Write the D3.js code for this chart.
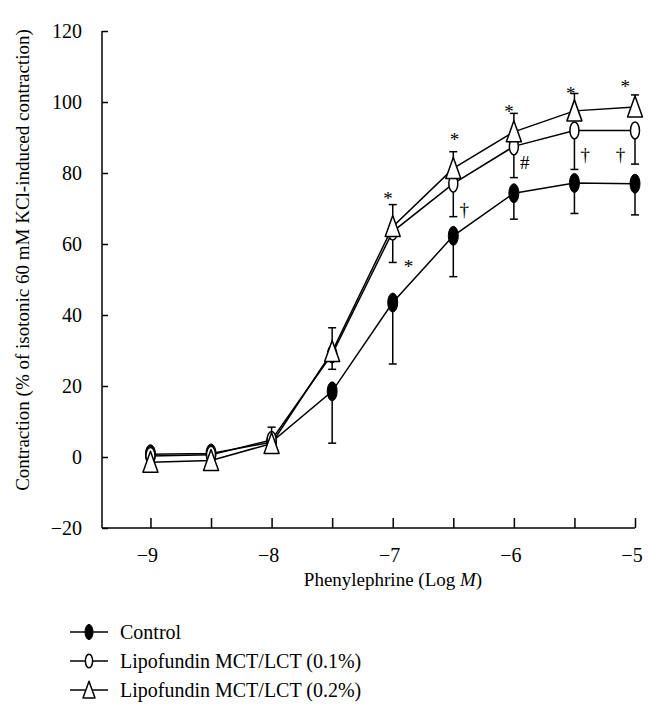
<!DOCTYPE html>
<html><head><meta charset="utf-8">
<script src="https://cdn.jsdelivr.net/npm/d3@7"></script>
<style>
html,body{margin:0;padding:0;background:#fff;}
svg text{font-family:"Times New Roman","Liberation Serif","DejaVu Serif","Noto Serif",serif !important;}
</style></head>
<body><svg id="c" width="660" height="714"></svg>
<script>
// ---- data ----
const logDose = [-9, -8.5, -8, -7.5, -7, -6.5, -6, -5.5, -5];
const controlMean = [0.8, 1.0, 4.2, 18.5, 43.5, 62.3, 74.3, 77.2, 77.0];
const controlSD   = [0.5, 0.5, 1.0, 14.6, 17.3, 11.5, 7.3, 8.6, 8.8];
const lipo01Mean  = [0.3, 0.6, 4.8, 29.0, 63.5, 77.0, 87.5, 92.0, 92.0];
const lipo01SD    = [0.5, 0.5, 1.0, 4.3, 8.7, 9.3, 8.8, 11.0, 9.5];
const lipo02Mean  = [-1.5, -1.0, 3.8, 29.7, 64.9, 81.3, 91.6, 97.5, 98.6];
const lipo02SD    = [0.5, 0.5, 4.6, 6.7, 6.2, 4.7, 5.2, 4.9, 3.4];
const xTicks = [-9, -8.5, -8, -7.5, -7, -6.5, -6, -5.5, -5];
const xTickLabels = ["−9", "", "−8", "", "−7", "", "−6", "", "−5"];
const yTicks = [-20, 0, 20, 40, 60, 80, 100, 120];
const yTickLabels = ["−20", "0", "20", "40", "60", "80", "100", "120"];
const legendLabels = ["Control", "Lipofundin MCT/LCT (0.1%)", "Lipofundin MCT/LCT (0.2%)"];
const markSymbols = ["*", "*", "*", "*", "*", "*", "†", "†", "†", "#"];
const markX = [-7.04, -6.87, -6.49, -6.04, -5.53, -5.08, -6.41, -5.41, -5.12, -5.91];
const markY = [74.4, 55.2, 91.0, 98.9, 103.9, 105.9, 69.6, 85.1, 85.1, 82.8];

const svg = d3.select("#c");
const x = d3.scaleLinear().domain([-9.4, -5]).range([102, 635]);
const y = d3.scaleLinear().domain([-20, 120]).range([528, 31]);

// axes
const yAxis = d3.axisRight(y).tickValues(yTicks).tickSize(6).tickFormat("");
const gy = svg.append("g").attr("transform", `translate(${x.range()[0]},0)`).call(yAxis);
gy.select(".domain").attr("d", `M0,${y(120)}V${y(-20)}`);
gy.selectAll("line,path").attr("stroke", "#000").attr("stroke-width", 1.5);
svg.append("g").selectAll("text").data(yTicks).join("text")
  .attr("fill", "#000")
  .attr("x", 82).attr("y", d => y(d)).attr("dy", "0.35em")
  .attr("text-anchor", "end").attr("font-size", 20)
  .text((d, i) => yTickLabels[i]);

const xAxis = d3.axisTop(x).tickValues(xTicks).tickSize(10).tickFormat("");
const gx = svg.append("g").attr("transform", `translate(0,${y(-20)})`).call(xAxis);
gx.select(".domain").attr("d", `M${x.range()[0]},0H${x(-5)}`);
gx.selectAll("line,path").attr("stroke", "#000").attr("stroke-width", 1.5);
svg.append("g").selectAll("text").data(xTicks).join("text")
  .attr("fill", "#000")
  .attr("x", d => x(d) - 3).attr("y", 562)
  .attr("text-anchor", "middle").attr("font-size", 20)
  .text((d, i) => xTickLabels[i]);

// titles
const xt = svg.append("text").attr("fill", "#000")
  .attr("x", 393).attr("y", 586).attr("text-anchor", "middle").attr("font-size", 19);
xt.append("tspan").text("Phenylephrine (Log ");
xt.append("tspan").attr("font-style", "italic").text("M");
xt.append("tspan").text(")");
svg.append("text").attr("fill", "#000")
  .attr("transform", "translate(29,260) rotate(-90)")
  .attr("text-anchor", "middle").attr("font-size", 19)
  .text("Contraction (% of isotonic 60 mM KCl-induced contraction)");

// series
const series = [
  {mean: controlMean, sd: controlSD, dir: 1, shape: "fill"},
  {mean: lipo01Mean, sd: lipo01SD, dir: 1, shape: "open"},
  {mean: lipo02Mean, sd: lipo02SD, dir: -1, shape: "tri"}
];
const line = d3.line().x(d => x(d[0])).y(d => y(d[1]));
const plot = svg.append("g");

function drawMarker(g, cx, cy, shape, scale) {
  const s = scale || 1;
  if (shape === "fill") {
    g.append("ellipse").attr("cx", cx).attr("cy", cy).attr("rx", 5 * s).attr("ry", 9.5 * s)
      .attr("fill", "#000").attr("stroke", "#000").attr("stroke-width", 1);
  } else if (shape === "open") {
    g.append("ellipse").attr("cx", cx).attr("cy", cy).attr("rx", 4.5 * s).attr("ry", 8.5 * s)
      .attr("fill", "#fff").attr("stroke", "#000").attr("stroke-width", 1.5);
  } else {
    g.append("path").attr("d", `M${cx},${cy - 11 * s}L${cx + 7.5 * s},${cy + 10 * s}L${cx - 7.5 * s},${cy + 10 * s}Z`)
      .attr("fill", "#fff").attr("stroke", "#000").attr("stroke-width", 1.5).attr("stroke-linejoin", "round");
  }
}

series.forEach(s => {
  const pts = logDose.map((d, i) => [d, s.mean[i]]);
  pts.forEach((p, i) => {
    const y0 = y(p[1]), y1 = y(p[1] - s.dir * s.sd[i]), cx = x(p[0]);
    plot.append("line").attr("x1", cx).attr("x2", cx).attr("y1", y0).attr("y2", y1)
      .attr("stroke", "#000").attr("stroke-width", 1.5);
    plot.append("line").attr("x1", cx - 4).attr("x2", cx + 4).attr("y1", y1).attr("y2", y1)
      .attr("stroke", "#000").attr("stroke-width", 1.5);
  });
  plot.append("path").datum(pts).attr("d", line).attr("fill", "none")
    .attr("stroke", "#000").attr("stroke-width", 1.5);
});
series.forEach(s => {
  logDose.forEach((d, i) => drawMarker(plot, x(d), y(s.mean[i]), s.shape));
});

// significance marks
svg.append("g").selectAll("text").data(markSymbols).join("text")
  .attr("fill", "#000")
  .attr("x", (d, i) => x(markX[i])).attr("y", (d, i) => y(markY[i]))
  .attr("dy", d => d === "*" ? "0.62em" : "0.33em")
  .attr("text-anchor", "middle").attr("font-size", 19)
  .text(d => d);

// legend
const shapes = ["fill", "open", "tri"];
const lg = svg.append("g");
legendLabels.forEach((lab, i) => {
  const yy = 632 + i * 29;
  lg.append("line").attr("x1", 70).attr("x2", 108).attr("y1", yy).attr("y2", yy)
    .attr("stroke", "#000").attr("stroke-width", 1.5);
  drawMarker(lg, 89, yy, shapes[i], 0.8);
  lg.append("text").attr("fill", "#000")
    .attr("x", 120).attr("y", yy).attr("dy", "0.33em").attr("font-size", 20).text(lab);
});
</script></body></html>
